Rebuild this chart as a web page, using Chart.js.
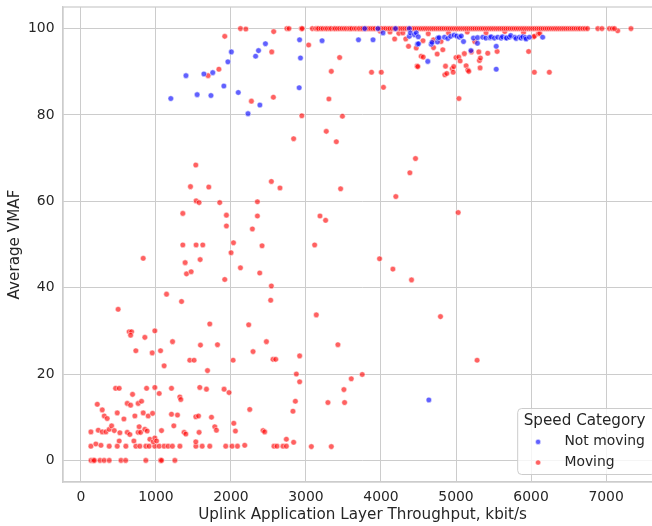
<!DOCTYPE html>
<html>
<head>
<meta charset="utf-8">
<script src="https://cdn.jsdelivr.net/npm/chart.js@4/dist/chart.umd.min.js"></script>
<style>
html,body{margin:0;padding:0;overflow:hidden;background:#fff;}
#wrap{width:667px;height:526px;}
</style>
</head>
<body>
<div id="wrap"><canvas id="c" width="667" height="526"></canvas></div>
<script>
// ---- data (throughput kbit/s, average VMAF) ----
const seriesNames = ["Not moving", "Moving"];
const xTicks = [0, 1000, 2000, 3000, 4000, 5000, 6000, 7000];
const yTicks = [0, 20, 40, 60, 80, 100];

const notMoving = [
[1199,83.8],[1401,89.1],[1550,84.7],[1640,89.5],[1734,84.5],[1758,89.8],[1906,86.7],[1960,92.3],[2006,94.6],[2098,85.2],
[2228,80.3],[2329,93.6],[2368,94.9],[2386,82.3],[2460,96.5],[2910,86.3],[2915,97.4],[2927,93.2],[3215,97.2],[3700,97.4],
[3783,100],[3894,97.4],[3960,100],[4027,99.0],[4193,100],[4378,100],[4378,98.2],[4392,99.0],[4447,98.6],[4470,99.0],
[4486,96.4],[4497,98.1],[4500,96.5],[4624,92.4],[4638,14.0],[4669,96.4],[4680,96.8],[4752,96.9],[4757,97.8],[4774,97.9],
[4846,98.0],[4890,97.7],[4930,98.2],[4975,98.5],[5010,98.3],[5045,98.0],[5070,98.3],[5100,97.0],[5199,94.9],[5232,97.8],
[5286,96.6],[5287,97.9],[5356,98.0],[5398,97.8],[5453,97.9],[5468,98.1],[5512,97.8],[5536,95.9],[5536,90.6],[5556,98.0],
[5601,97.8],[5619,98.1],[5667,97.9],[5674,97.8],[5712,98.0],[5729,98.4],[5785,98.0],[5801,97.7],[5845,98.0],[5867,97.8],
[5890,98.1],[5923,97.9],[5934,97.6],[5978,98.0],[6155,98.0]
];

const movingLow = [
[135,0],[165,0],[180,0],[255,0],[310,0],[378,0],[535,0],[597,0],[866,0],[1063,0],[1075,0],[1253,0],
[134,3.3],[200,3.8],[268,3.5],[378,3.3],[485,3.3],[600,3.3],[733,3.3],[786,3.3],[866,3.3],[910,3.3],[985,3.3],[1043,3.3],
[1109,3.3],[1162,3.3],[1220,3.3],[1320,3.3],[1533,3.3],[1617,3.3],[1718,3.3],[1931,3.3],[2015,3.3],[2087,3.3],[2184,3.5],
[2574,3.3],[2614,3.3],[2694,3.3],[2739,3.3],[3072,3.2],[3338,3.2],
[511,4.5],[707,4.5],[920,4.9],[964,4.3],[986,5.2],[1009,4.5],[1532,4.3],[2739,4.9],[2836,4.2],
[134,6.6],[232,7.0],[285,6.6],[334,6.6],[378,7.2],[410,8.0],[445,6.9],[520,6.4],[618,6.5],[653,6.0],[777,7.8],[764,6.5],
[796,6.5],[853,7.2],[884,6.8],[1075,6.9],[1239,8.0],[1376,6.5],[1399,6.1],[1576,6.5],[1785,7.8],[1807,7.0],[2038,8.6],
[2060,6.8],[2428,6.9],[2450,6.6],
[219,13.0],[285,11.7],[312,10.3],[351,9.7],[485,11.0],[574,9.6],[618,13.2],[663,12.8],[764,13.2],[809,13.7],[720,10.3],
[831,11.0],[897,10.3],[956,10.9],[1208,10.7],[1288,10.5],[1532,10.1],[1568,10.3],[1741,10.0],[2251,11.8],
[463,16.7],[511,16.7],[689,15.3],[876,16.7],[986,16.9],[1044,15.5],[1208,16.7],[1319,14.7],[1332,14.1],[1585,16.9],
[1674,16.5],[1909,16.5],[1975,15.7],[2916,18.2],[2859,13.7],[2827,11.4],[3293,13.4],[3515,13.4],[3506,16.4],[3604,18.9],
[3750,19.9],[2872,20.0],[1688,20.8]
];

const movingMid = [
[497,35.0],[1342,36.8],[2530,37.1],[3138,33.7],[644,29.8],[676,29.8],[663,29.0],[853,28.5],[986,30.0],[1718,31.6],
[2237,31.4],[733,25.4],[951,24.9],[1062,25.4],[1222,27.5],[1594,26.7],[1821,26.8],[1110,21.9],[1452,23.2],[1509,23.2],
[2029,23.2],[2295,25.2],[2473,27.5],[2561,23.4],[2597,23.4],[2916,24.2],[3426,26.8],[4793,33.3],[5281,23.2],[1142,38.5],
[2836,74.5],[3271,76.2],[3405,73.8],[1532,68.4],[1461,63.4],[1705,63.3],[2539,64.6],[2654,63.1],[3462,62.9],[1536,60.1],
[1576,59.7],[1851,59.7],[2353,59.9],[1359,57.2],[1940,56.8],[1940,54.3],[2353,56.6],[2286,53.6],[3187,56.6],[3262,55.6],
[1359,49.9],[1536,49.9],[1625,49.9],[2034,50.4],[2415,49.7],[3116,49.9],[2002,48.1],[831,46.8],[1390,45.8],[1590,46.5],
[1408,43.2],[1470,43.7],[1918,41.9],[2127,44.6],[2384,43.4],[2539,40.4],[4460,69.9],[4385,66.6],[4198,61.1],[5029,57.4],
[3981,46.7],[4159,44.3],[4407,41.8],[2945,79.8],[3486,79.7]
];

const movingHigh = [
[1918,98.2],[1696,89.1],[1840,90.6],[2273,83.2],[2544,94.6],[2566,84.1],[2570,99.3],[3036,96.2],[3306,83.7],[3338,90.1],
[3449,93.3],[3874,89.9],[4004,89.9],[4033,86.4],[4182,97.6],[4238,98.9],[4292,99.0],[4367,95.9],[4470,95.5],[4481,91.3],
[4491,91.2],[4536,93.6],[4563,93.4],[4749,94.1],[4824,95.1],[4860,91.3],[4851,89.3],[4877,89.6],[4949,90.7],[4970,91.2],
[4962,89.9],[5000,93.3],[5037,93.4],[5055,92.5],[5039,83.8],[5111,94.2],[5135,91.4],[5157,90.4],[5170,90.1],[5205,94.6],
[5304,94.6],[5312,92.6],[5325,93.2],[5321,90.9],[5423,94.3],[5548,94.7],[5968,94.7],[6033,98.1],[6044,98.2],[6097,98.8],
[6116,98.9],[6044,89.9],[6244,89.9],[7155,99.5],[4700,97.4],[4630,98.8],[4800,97.0],[4560,97.2],[4330,97.6],[4120,99.2],
[3990,99.4],[4900,99.0],[5150,99.2],[5400,99.0],[5650,99.3],[5900,99.1],[5250,97.0],[4700,95.6]
];

const movingTop = [
[2127,100],[2199,99.9],[2746,100],[2774,100],[2939,100],[2950,100],[3085,100],[3130,100],[3152,100],[3169,100],
[3200,100],[3227,100],[3260,100],[3285,100],[3315,100],[3338,100],[3372,100],[3391,100],[3420,100],[3449,100],
[3480,100],[3510,100],[3538,100],[3568,100],[3590,100],[3612,100],[3645,100],[3671,100],[3700,100],[3715,100],
[3740,100],[3759,100],[3790,100],[3812,100],[3839,100],[3865,100],[3892,100],[3920,100],[3958,100],[3985,100],
[4010,100],[4040,100],[4065,100],[4095,100],[4120,100],[4150,100],[4178,100],[4205,100],[4235,100],[4262,100],
[4290,100],[4318,100],[4345,100],[4372,100],[4400,100],[4428,100],[4455,100],[4482,100],[4510,100],[4537,100],
[4565,100],[4592,100],[4620,100],[4648,100],[4675,100],[4702,100],[4730,100],[4758,100],[4785,100],[4812,100],
[4840,100],[4868,100],[4895,100],[4922,100],[4950,100],[4978,100],[5005,100],[5032,100],[5060,100],[5088,100],
[5115,100],[5142,100],[5170,100],[5198,100],[5225,100],[5252,100],[5280,100],[5308,100],[5335,100],[5362,100],
[5390,100],[5418,100],[5445,100],[5472,100],[5500,100],[5528,100],[5555,100],[5582,100],[5610,100],[5638,100],
[5665,100],[5692,100],[5720,100],[5748,100],[5775,100],[5802,100],[5830,100],[5858,100],[5885,100],[5912,100],
[5940,100],[5968,100],[5995,100],[6022,100],[6050,100],[6078,100],[6105,100],[6132,100],[6160,100],[6188,100],
[6215,100],[6242,100],[6270,100],[6298,100],[6325,100],[6352,100],[6380,100],[6408,100],[6435,100],[6462,100],
[6490,100],[6518,100],[6545,100],[6572,100],[6600,100],[6628,100],[6655,100],[6690,100],[6720,100],[6752,100],
[6890,100],[6945,100],[7044,100],[7083,100],[7111,100],[7332,100]
];

const moving = movingLow.concat(movingMid, movingHigh, movingTop);

// ---- styling ----
const FONT = "'DejaVu Sans', sans-serif";
const TXT = '#262626';
const GRID = '#cccccc';
const BLUE = 'rgba(0,0,255,0.62)';
const RED = 'rgba(255,0,0,0.62)';
const EDGE = 'rgba(255,255,255,0.62)';

const toPts = arr => arr.map(p => ({x: p[0], y: p[1]}));

const framePlugin = {
  id: 'frameLegend',
  afterDatasetsDraw(chart) {
    const {ctx, chartArea: a} = chart;
    ctx.save();
    ctx.strokeStyle = GRID;
    ctx.lineWidth = 1.25;
    ctx.strokeRect(a.left, a.top, a.right - a.left, a.bottom - a.top);
    ctx.restore();
  },
  afterDraw(chart) {
    const {ctx, chartArea: a} = chart;
    const x0 = a.right - 144.5, y0 = a.bottom - 73.5, w = 137.5, h = 66, r = 4;
    ctx.save();
    ctx.beginPath();
    ctx.moveTo(x0 + r, y0);
    ctx.lineTo(x0 + w - r, y0);
    ctx.arcTo(x0 + w, y0, x0 + w, y0 + r, r);
    ctx.lineTo(x0 + w, y0 + h - r);
    ctx.arcTo(x0 + w, y0 + h, x0 + w - r, y0 + h, r);
    ctx.lineTo(x0 + r, y0 + h);
    ctx.arcTo(x0, y0 + h, x0, y0 + h - r, r);
    ctx.lineTo(x0, y0 + r);
    ctx.arcTo(x0, y0, x0 + r, y0, r);
    ctx.closePath();
    ctx.fillStyle = 'rgba(255,255,255,0.8)';
    ctx.fill();
    ctx.strokeStyle = GRID;
    ctx.lineWidth = 1;
    ctx.stroke();

    ctx.fillStyle = TXT;
    ctx.textAlign = 'left';
    ctx.textBaseline = 'alphabetic';
    ctx.font = "15.2px " + FONT;
    ctx.fillText('Speed Category', x0 + 6, y0 + 16.2);
    ctx.font = "13.9px " + FONT;
    const cols = [BLUE, RED];
    const ys = [y0 + 33.4, y0 + 54];
    for (let i = 0; i < 2; i++) {
      ctx.beginPath();
      ctx.arc(x0 + 20.4, ys[i], 2.6, 0, Math.PI * 2);
      ctx.fillStyle = cols[i];
      ctx.fill();
      ctx.strokeStyle = EDGE;
      ctx.lineWidth = 0.8;
      ctx.stroke();
      ctx.fillStyle = TXT;
      ctx.fillText(seriesNames[i], x0 + 46.7, ys[i] + 3.5);
    }
    ctx.restore();
  }
};

new Chart(document.getElementById('c'), {
  type: 'scatter',
  data: {
    datasets: [
      {label: seriesNames[0], data: toPts(notMoving), backgroundColor: BLUE, borderColor: EDGE, borderWidth: 0.8, pointRadius: 2.8},
      {label: seriesNames[1], data: toPts(moving), backgroundColor: RED, borderColor: EDGE, borderWidth: 0.8, pointRadius: 2.8}
    ]
  },
  options: {
    responsive: false,
    animation: false,
    devicePixelRatio: 1,
    layout: {padding: {top: 7, right: 0, bottom: 0, left: 0}},
    plugins: {legend: {display: false}, tooltip: {enabled: false}},
    scales: {
      x: {
        type: 'linear', min: -238, max: 7748,
        afterBuildTicks: s => { s.ticks = xTicks.map(v => ({value: v})); },
        afterFit: s => { s.height = 44; s.paddingLeft = 0; s.paddingRight = 0; },
        grid: {color: GRID, lineWidth: 1, drawTicks: false},
        border: {display: true, color: GRID, width: 1.25},
        ticks: {color: TXT, font: {family: FONT, size: 13.9}, padding: 7, maxRotation: 0, autoSkip: false, callback: v => String(v)},
        title: {display: true, text: 'Uplink Application Layer Throughput, kbit/s', color: TXT, font: {family: FONT, size: 15.2}, padding: {top: 0, bottom: 2.3}}
      },
      y: {
        type: 'linear', min: -5, max: 105,
        afterBuildTicks: s => { s.ticks = yTicks.map(v => ({value: v})); },
        afterFit: s => { s.width = 63; s.paddingTop = 0; s.paddingBottom = 0; },
        grid: {color: GRID, lineWidth: 1, drawTicks: false},
        border: {display: true, color: GRID, width: 1.25},
        ticks: {color: TXT, font: {family: FONT, size: 13.9}, padding: 8.5, autoSkip: false, callback: v => String(v)},
        title: {display: true, text: 'Average VMAF', color: TXT, font: {family: FONT, size: 15.2}, padding: {top: 5.5, bottom: 0}}
      }
    }
  },
  plugins: [framePlugin]
});
</script>
</body>
</html>
